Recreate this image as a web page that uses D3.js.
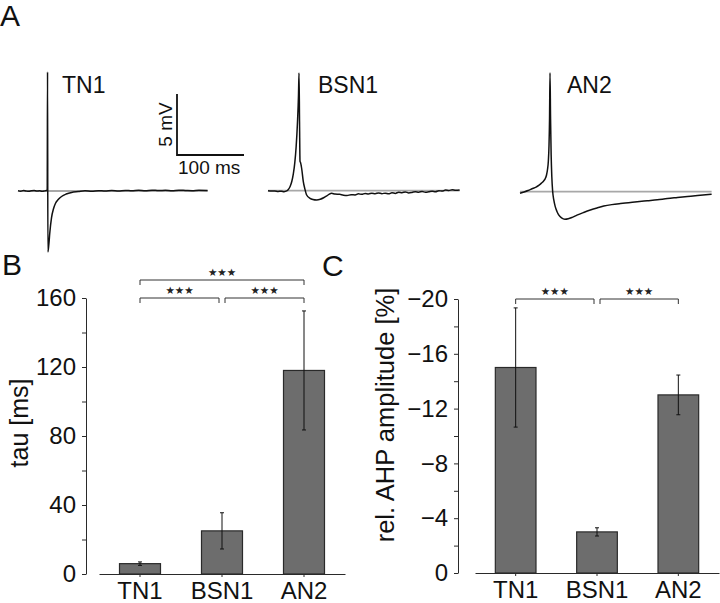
<!DOCTYPE html>
<html lang="en">
<head>
<meta charset="UTF-8">
<title>AHP comparison</title>
<script src="https://d3js.org/d3.v7.min.js"></script>
<style>
    body { margin: 0; background: #fff; }
    svg { font-family: "Liberation Sans", Arial, Helvetica, sans-serif; }
    .axis path, .axis line { stroke: #2a2a2a; stroke-width: 1; }
    .axis text { font-size: 24px; fill: #111; }
</style>
</head>
<body>
<div id="chart"></div>
<script>
// ---- data ----
const cells = ["TN1", "BSN1", "AN2"];

// B: AHP decay time constant (ms)
const tauMean = [6, 25, 118];
const tauErr = [1, 10.5, 34.5];
const tauTicks = [0, 20, 40, 60, 80, 100, 120, 140, 160];

// C: relative AHP amplitude (%)
const ahpMean = [-15, -3, -13];
const ahpErr = [4.35, 0.3, 1.45];
const ahpTicks = [0, -2, -4, -6, -8, -10, -12, -14, -16, -18, -20];

// significance brackets [from, to, level]
const sigB = [["TN1", "AN2", 1], ["TN1", "BSN1", 0], ["BSN1", "AN2", 0]];
const sigC = [["TN1", "BSN1", 0], ["BSN1", "AN2", 0]];

// A: example traces, [time ms, membrane potential mV rel. to rest]
const traceTN1 = [
  [0, 0.03], [4, -0.02], [8, 0.04], [12, 0.0], [16, -0.03], [20, 0.02], [24, 0.05], [28, -0.01],
  [32, 0.02], [36, -0.03], [40, 0.01], [43.6, 0.06], [44.1, 9.75], [44.6, -5.0], [46, -4.4],
  [47.5, -3.4], [50, -2.2], [53, -1.45], [56, -1.0], [60, -0.7], [65, -0.45], [72, -0.25],
  [80, -0.12], [90, -0.05], [100, 0.02], [110, -0.02], [120, 0.03], [130, 0.0], [140, 0.04],
  [150, 0.01], [160, 0.05], [170, 0.02], [180, 0.06], [190, 0.03], [200, 0.07], [210, 0.04],
  [220, 0.06], [230, 0.03], [240, 0.07], [250, 0.05], [260, 0.03], [270, 0.06], [283, 0.04]
];
const traceBSN1 = [
  [0, 0.0], [5, -0.03], [10, -0.02], [15, -0.06], [20, -0.05], [24, -0.08], [28, -0.02],
  [30, 0.08], [33, 0.35], [35.5, 0.75], [37.8, 1.37], [40, 2.3], [42, 3.6], [44, 5.6],
  [45.5, 7.8], [46.3, 9.65], [47.1, 5.5], [47.8, 2.4], [48.6, 2.3], [50.2, 1.84], [52.7, 0.74],
  [55, 0.15], [57.7, -0.35], [62.7, -0.62], [67, -0.72], [72.6, -0.76], [78, -0.7], [83, -0.58],
  [87.6, -0.43], [91, -0.3], [95, -0.21], [100, -0.28], [107, -0.3], [112, -0.36], [118, -0.4],
  [124, -0.33], [130, -0.35], [135, -0.26], [140, -0.3], [145, -0.22], [150, -0.27], [155, -0.2],
  [160, -0.25], [165, -0.18], [170, -0.24], [175, -0.2], [180, -0.26], [185, -0.17], [190, -0.22],
  [195, -0.12], [200, -0.16], [205, -0.1], [210, -0.18], [215, -0.14], [220, -0.08], [225, -0.12],
  [230, -0.06], [235, -0.13], [240, -0.09], [245, -0.04], [250, -0.08], [255, 0.0], [260, -0.03],
  [265, 0.05], [270, 0.02], [275, 0.07], [280, 0.03], [286, 0.06]
];
const traceAN2 = [
  [0, -0.13], [6, -0.02], [12, 0.1], [18, 0.24], [24, 0.38], [28, 0.52], [32, 0.7], [35, 0.86],
  [37.5, 1.05], [39.5, 1.35], [41, 1.8], [42.3, 2.5], [43.3, 3.8], [44.1, 6.0], [44.8, 9.75],
  [45.6, 6.0], [46.5, 3.0], [47.5, 1.2], [48.8, 0.0], [50.5, -0.7], [52.5, -1.2], [55, -1.6],
  [58, -1.92], [62, -2.15], [67, -2.26], [72, -2.22], [78, -2.1], [85, -1.92], [95, -1.7],
  [105, -1.5], [115, -1.33], [125, -1.18], [137, -1.06], [150, -0.97], [162, -0.9], [175, -0.82],
  [190, -0.74], [205, -0.66], [220, -0.56], [235, -0.48], [250, -0.4], [265, -0.32], [286, -0.2]
];
const traces = [
  { name: "TN1", points: traceTN1, x0: 18, y0: 191, lx: 62, ly: 93 },
  { name: "BSN1", points: traceBSN1, x0: 268, y0: 190.7, lx: 318, ly: 93 },
  { name: "AN2", points: traceAN2, x0: 520, y0: 191.7, lx: 567, ly: 93 }
];
const scaleBarMs = 100, scaleBarMv = 5;

// ---- svg ----
const W = 720, H = 603;
const svg = d3.select("#chart").append("svg")
    .attr("width", W).attr("height", H);

// panel letters
svg.selectAll(".panel-letter")
    .data([["A", 0, 26], ["B", 2, 275], ["C", 322, 276]])
    .enter().append("text")
    .attr("x", d => d[1]).attr("y", d => d[2])
    .style("font-size", "30px").style("fill", "#111")
    .text(d => d[0]);

// ---- A: traces ----
const tx = d3.scaleLinear().domain([0, 100]).range([0, 67]);
const vy = d3.scaleLinear().domain([0, 5]).range([0, -61]);
const line = d3.line().x(d => tx(d[0])).y(d => vy(d[1])).curve(d3.curveMonotoneX);

traces.forEach(tr => {
    const g = svg.append("g").attr("transform", `translate(${tr.x0},${tr.y0})`);
    const tEnd = d3.max(tr.points, d => d[0]);
    g.append("line")
        .attr("x1", tx(0)).attr("x2", tx(tEnd))
        .attr("y1", vy(0)).attr("y2", vy(0))
        .attr("stroke", "#a8a8a8").attr("stroke-width", 1.8);
    g.append("path")
        .datum(tr.points)
        .attr("d", line)
        .attr("fill", "none")
        .attr("stroke", "#111")
        .attr("stroke-width", 1.5)
        .attr("stroke-linejoin", "round");
    svg.append("text")
        .attr("x", tr.lx).attr("y", tr.ly)
        .style("font-size", "23px").style("fill", "#111")
        .text(tr.name);
});

// scale bar
const sb = svg.append("g").attr("transform", "translate(177,155)");
sb.append("path")
    .attr("d", `M0,${vy(scaleBarMv)}V0H${tx(scaleBarMs)}`)
    .attr("fill", "none").attr("stroke", "#111").attr("stroke-width", 1.8);
sb.append("text")
    .attr("transform", `translate(-5,${vy(scaleBarMv) / 2}) rotate(-90)`)
    .attr("text-anchor", "middle")
    .style("font-size", "19px").style("fill", "#111")
    .text(`${scaleBarMv} mV`);
sb.append("text")
    .attr("x", 1).attr("y", 19)
    .style("font-size", "19px").style("fill", "#111")
    .text(`${scaleBarMs} ms`);

// ---- bar panels ----
function barPanel(opt) {
    const g = svg.append("g");
    const x = d3.scaleBand().domain(cells).range(opt.xRange)
        .paddingInner(0.5).paddingOuter(0.25);
    const y = d3.scaleLinear().domain(opt.domain).range(opt.yRange);

    g.append("g")
        .attr("class", "axis")
        .attr("transform", `translate(${opt.axisX},0)`)
        .call(d3.axisLeft(y).tickValues(opt.ticks)
            .tickFormat(d => d % opt.labelEvery === 0 ? d3.format("d")(d) : "")
            .tickSize(4).tickSizeOuter(0).tickPadding(6));

    g.append("g")
        .attr("class", "axis")
        .attr("transform", `translate(0,${y(0)})`)
        .call(d3.axisBottom(x).tickSize(3).tickSizeOuter(0).tickPadding(5));

    g.selectAll(".bar")
        .data(opt.mean)
        .enter().append("rect")
        .attr("x", (d, i) => x(cells[i]))
        .attr("width", x.bandwidth())
        .attr("y", d => Math.min(y(d), y(0)))
        .attr("height", d => Math.abs(y(0) - y(d)))
        .attr("fill", "#6d6d6d")
        .attr("stroke", "#2a2a2a")
        .attr("stroke-width", 1.2);

    const cx = i => x(cells[i]) + x.bandwidth() / 2;
    const eb = g.selectAll(".err")
        .data(opt.mean)
        .enter().append("g")
        .attr("stroke", "#111").attr("stroke-width", 1);
    eb.append("line")
        .attr("x1", (d, i) => cx(i)).attr("x2", (d, i) => cx(i))
        .attr("y1", (d, i) => y(d - opt.err[i])).attr("y2", (d, i) => y(d + opt.err[i]));
    [-1, 1].forEach(s => {
        eb.append("line")
            .attr("x1", (d, i) => cx(i) - 2).attr("x2", (d, i) => cx(i) + 2)
            .attr("y1", (d, i) => y(d + s * opt.err[i])).attr("y2", (d, i) => y(d + s * opt.err[i]));
    });

    // significance brackets
    const top = y(opt.domain[1]);
    const inset = c => (c === cells[1] ? 3 : 0);
    opt.sig.forEach(([a, b, level]) => {
        const x1 = x(a) + x.bandwidth() / 2 + inset(a);
        const x2 = x(b) + x.bandwidth() / 2 - inset(b);
        const yy = top - level * 18;
        g.append("path")
            .attr("d", `M${x1},${yy + 5}V${yy}H${x2}V${yy + 5}`)
            .attr("fill", "none").attr("stroke", "#333").attr("stroke-width", 1);
        g.append("text")
            .attr("x", (x1 + x2) / 2).attr("y", yy - 4)
            .attr("text-anchor", "middle")
            .style("font-family", "'DejaVu Sans', sans-serif")
            .style("font-size", "10.5px").style("fill", "#222")
            .text("★★★");
    });

    g.append("text")
        .attr("transform", `translate(${opt.titleX},${opt.titleY}) rotate(-90)`)
        .attr("text-anchor", "middle")
        .style("font-size", opt.titleSize).style("fill", "#111")
        .text(opt.title);
}

barPanel({
    mean: tauMean, err: tauErr, ticks: tauTicks, labelEvery: 40,
    domain: [0, 160], yRange: [574, 298], xRange: [99, 345], axisX: 86,
    sig: sigB, title: "tau [ms]", titleX: 28, titleY: 423, titleSize: "25px"
});

barPanel({
    mean: ahpMean, err: ahpErr, ticks: ahpTicks, labelEvery: 4,
    domain: [0, -20], yRange: [573, 299], xRange: [475, 719], axisX: 458,
    sig: sigC, title: "rel. AHP amplitude [%]", titleX: 394, titleY: 415, titleSize: "25.5px"
});
</script>
</body>
</html>
